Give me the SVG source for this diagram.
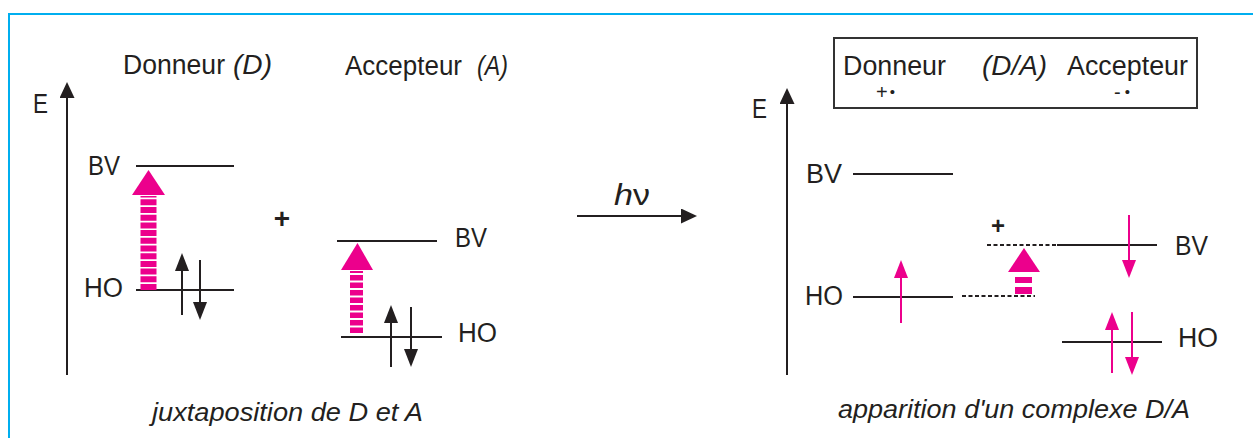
<svg xmlns="http://www.w3.org/2000/svg" width="1253" height="438" viewBox="0 0 1253 438">
<defs>
<style>
text{font-family:"Liberation Sans",Arial,sans-serif;fill:#231f20;font-size:27px}
.it{font-style:italic}
.lvl{stroke:#231f20;stroke-width:2;fill:none}
.dash{stroke:#231f20;stroke-width:2;stroke-dasharray:4 2.5;fill:none}
.ax{stroke:#231f20;stroke-width:2;fill:none}
.eb{stroke:#231f20;stroke-width:2;fill:none}
.ep{stroke:#ec008c;stroke-width:2;fill:none}
.pk{fill:#ec008c}
.pl{font-weight:bold}
</style>
<marker id="hb" viewBox="0 0 18 14" refX="14" refY="7" markerWidth="18" markerHeight="14" markerUnits="userSpaceOnUse" orient="auto"><path d="M0,0 L18,7 L0,14 z" fill="#231f20"/></marker>
<marker id="hp" viewBox="0 0 18 14" refX="14" refY="7" markerWidth="18" markerHeight="14" markerUnits="userSpaceOnUse" orient="auto"><path d="M0,0 L18,7 L0,14 z" fill="#ec008c"/></marker>
<marker id="ha" viewBox="0 0 16 15" refX="12" refY="7.5" markerWidth="16" markerHeight="15" markerUnits="userSpaceOnUse" orient="auto"><path d="M0,0 L16,7.5 L0,15 z" fill="#231f20"/></marker>
</defs>
<rect x="9" y="14" width="1252" height="440" fill="#fff" stroke="#00aeef" stroke-width="2"/>

<g id="connectors">
<line class="ax" x1="67" y1="375" x2="67" y2="86" marker-end="url(#ha)"/>
<line class="ax" x1="787" y1="375" x2="787" y2="92" marker-end="url(#ha)"/>
<line class="ax" x1="577" y1="216" x2="693" y2="216" marker-end="url(#ha)"/>
</g>

<g id="donneur">
<text x="123" y="74" textLength="102" lengthAdjust="spacingAndGlyphs">Donneur</text>
<text class="it" x="233" y="74" textLength="39" lengthAdjust="spacingAndGlyphs">(D)</text>
<text x="33" y="113" textLength="15" lengthAdjust="spacingAndGlyphs">E</text>
<text x="88" y="175" textLength="32" lengthAdjust="spacingAndGlyphs">BV</text>
<text x="84" y="297" textLength="39" lengthAdjust="spacingAndGlyphs">HO</text>
<line class="lvl" x1="136" y1="166" x2="234" y2="166"/>
<line class="lvl" x1="136" y1="290" x2="234" y2="290"/>
<line x1="148.5" y1="290" x2="148.5" y2="196" stroke="#ec008c" stroke-width="16" stroke-dasharray="6 1.7"/>
<polygon class="pk" points="148.5,170 132,195 165,195"/>
<line class="eb" x1="182" y1="315" x2="182" y2="257" marker-end="url(#hb)"/>
<line class="eb" x1="200" y1="260" x2="200" y2="316" marker-end="url(#hb)"/>
</g>

<g id="plus">
<text class="pl" x="282" y="228" text-anchor="middle" style="font-size:28px">+</text>
</g>

<g id="accepteur">
<text x="345" y="75" textLength="117" lengthAdjust="spacingAndGlyphs">Accepteur</text>
<text class="it" x="477" y="75" textLength="31" lengthAdjust="spacingAndGlyphs">(A)</text>
<text x="455" y="247" textLength="32" lengthAdjust="spacingAndGlyphs">BV</text>
<text x="458" y="342" textLength="39" lengthAdjust="spacingAndGlyphs">HO</text>
<line class="lvl" x1="337" y1="241" x2="437" y2="241"/>
<line class="lvl" x1="341" y1="337" x2="442" y2="337"/>
<line x1="356.5" y1="333" x2="356.5" y2="271" stroke="#ec008c" stroke-width="13" stroke-dasharray="5.5 2"/>
<polygon class="pk" points="357.5,243 341,270 373,270"/>
<line class="eb" x1="391" y1="367" x2="391" y2="309" marker-end="url(#hb)"/>
<line class="eb" x1="411" y1="307" x2="411" y2="363" marker-end="url(#hb)"/>
</g>

<g id="hv">
<text x="614" y="205" style="font-size:29px" textLength="36" lengthAdjust="spacingAndGlyphs"><tspan class="it">h</tspan>ν</text>
</g>

<g id="legende">
<rect x="834" y="38" width="363" height="70" fill="none" stroke="#333" stroke-width="2"/>
<text x="843" y="75" textLength="103" lengthAdjust="spacingAndGlyphs">Donneur</text>
<text class="it" x="982" y="75" textLength="65" lengthAdjust="spacingAndGlyphs">(D/A)</text>
<text x="1067" y="75" textLength="121" lengthAdjust="spacingAndGlyphs">Accepteur</text>
<text x="876" y="99" style="font-size:20px">+<tspan style="font-size:15px" dy="-2" dx="2">•</tspan></text>
<text x="1114" y="99" style="font-size:20px">-<tspan style="font-size:15px" dy="-2" dx="4">•</tspan></text>
</g>

<g id="complexe">
<text x="752" y="118" textLength="15" lengthAdjust="spacingAndGlyphs">E</text>
<text x="806" y="183" textLength="36" lengthAdjust="spacingAndGlyphs">BV</text>
<text x="805" y="305" textLength="38" lengthAdjust="spacingAndGlyphs">HO</text>
<line class="lvl" x1="853" y1="174" x2="953" y2="174"/>
<line class="lvl" x1="853" y1="297" x2="953" y2="297"/>
<line class="ep" x1="901" y1="323" x2="901" y2="264" marker-end="url(#hp)"/>
<line class="dash" x1="962" y1="296" x2="1035" y2="296"/>
<line class="dash" x1="987" y1="245" x2="1057" y2="245"/>
<line class="lvl" x1="1057" y1="245" x2="1157" y2="245"/>
<line class="lvl" x1="1062" y1="342" x2="1162" y2="342"/>
<text class="pl" x="998" y="234" text-anchor="middle" style="font-size:24px">+</text>
<line x1="1023.5" y1="294" x2="1023.5" y2="275" stroke="#ec008c" stroke-width="17" stroke-dasharray="7 4 6 10"/>
<polygon class="pk" points="1024,248 1008,272 1040,272"/>
<line class="ep" x1="1129" y1="215" x2="1129" y2="274" marker-end="url(#hp)"/>
<line class="ep" x1="1112" y1="373" x2="1112" y2="316" marker-end="url(#hp)"/>
<line class="ep" x1="1132" y1="312" x2="1132" y2="371" marker-end="url(#hp)"/>
<text x="1175" y="255" textLength="33" lengthAdjust="spacingAndGlyphs">BV</text>
<text x="1178" y="347" textLength="40" lengthAdjust="spacingAndGlyphs">HO</text>
</g>

<g id="legendes-bas">
<text class="it" x="152" y="421" textLength="271" lengthAdjust="spacingAndGlyphs" style="font-size:25px">juxtaposition de D et A</text>
<text class="it" x="838" y="418" textLength="352" lengthAdjust="spacingAndGlyphs" style="font-size:25px">apparition d'un complexe D/A</text>
</g>
</svg>
